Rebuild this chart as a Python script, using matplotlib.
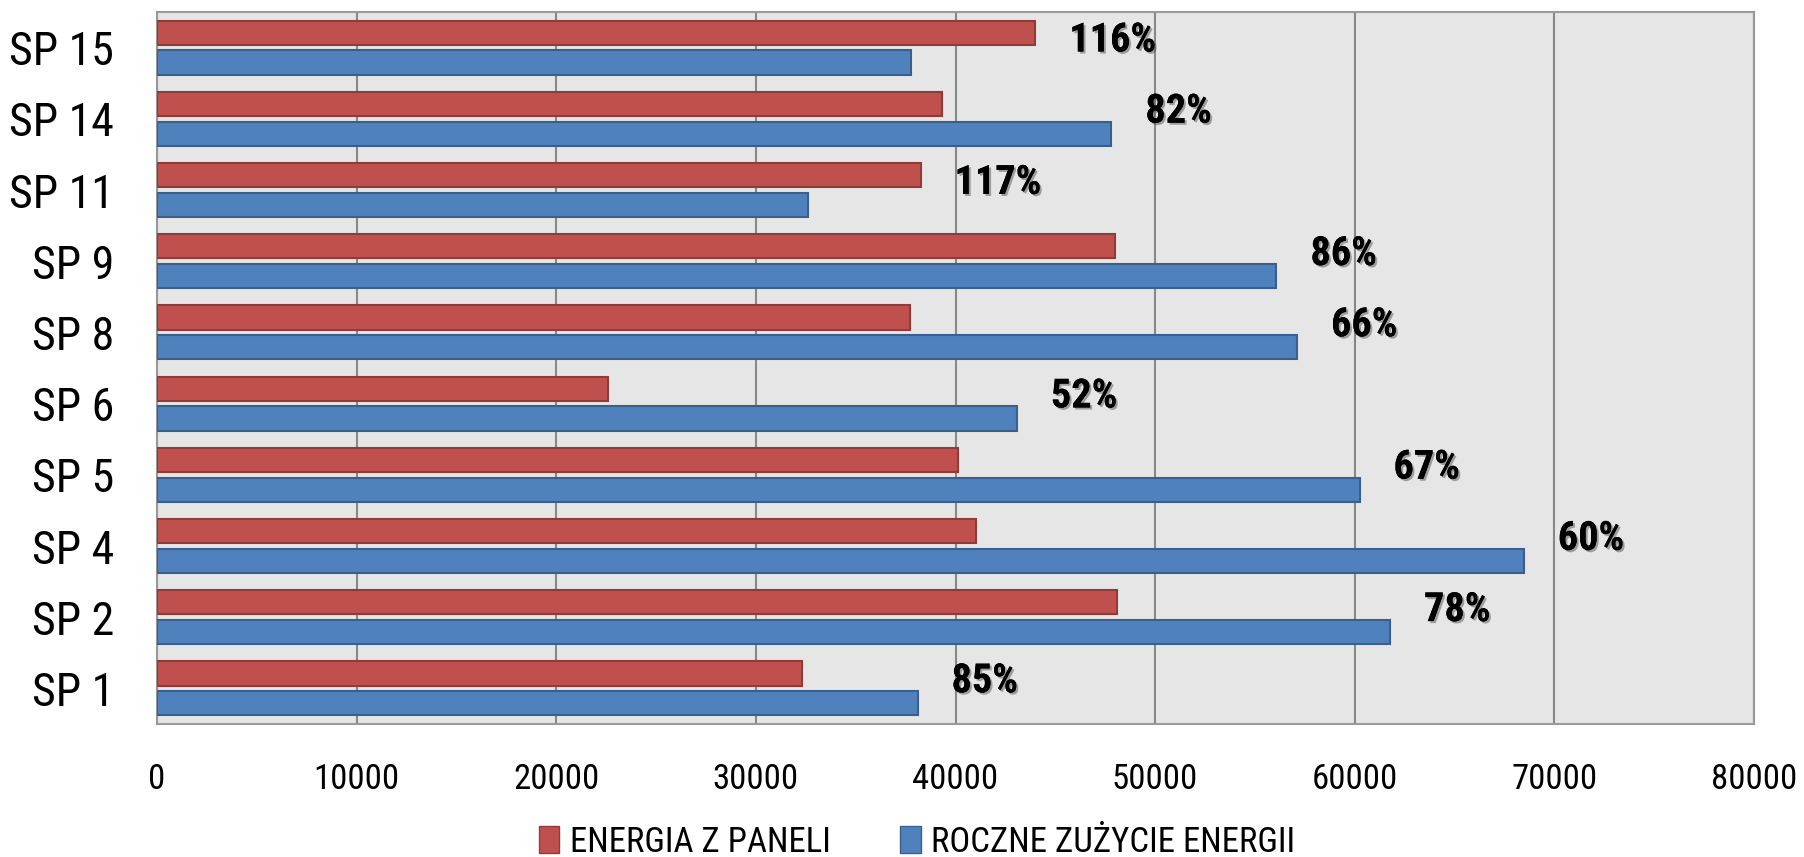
import os
import matplotlib
matplotlib.use('Agg')
import numpy as np
from matplotlib import pyplot as plt
from matplotlib import patheffects as pe
from matplotlib import font_manager as fm
from matplotlib.patches import Patch

schools = ['SP 1', 'SP 2', 'SP 4', 'SP 5', 'SP 6', 'SP 8', 'SP 9', 'SP 11', 'SP 14', 'SP 15']
panels = [32300, 48090, 41050, 40110, 22610, 37740, 47970, 38250, 39300, 44000]
usage = [38100, 61770, 68470, 60240, 43080, 57110, 56080, 32610, 47810, 37780]
percent = ['85%', '78%', '60%', '67%', '52%', '66%', '86%', '117%', '82%', '116%']
x_ticks = [0, 10000, 20000, 30000, 40000, 50000, 60000, 70000, 80000]

# look for a narrow font, the original uses a condensed face
pref = ['Liberation Sans Narrow', 'Roboto Condensed', 'DejaVu Sans', 'Noto Sans',
        'Open Sans', 'Roboto', 'Lato', 'Inter']
wmap = {'normal': 400, 'regular': 400, 'book': 400, 'medium': 500, 'bold': 700,
        'semibold': 600, 'demibold': 600, 'light': 300, 'black': 900, 'heavy': 900}


def narrow_font(bold):
    target = 700 if bold else 400
    best, best_score = None, None
    for f in fm.fontManager.ttflist:
        base = os.path.basename(f.fname)
        st = str(f.stretch)
        cond = (st in ('condensed', 'semi-condensed') or 'Narrow' in f.name
                or ('Condensed' in base and 'Extra' not in base and 'Ultra' not in base))
        if not cond or f.style != 'normal':
            continue
        w = f.weight if isinstance(f.weight, int) else wmap.get(str(f.weight).lower(), 400)
        if bold != (w >= 600):
            continue
        rank = len(pref)
        for k, p in enumerate(pref):
            if f.name.startswith(p):
                rank = k
                break
        score = (rank, 'Semi' in base, abs(w - target))
        if best_score is None or score < best_score:
            best, best_score = f, score
    if best is None:
        return fm.FontProperties(family='DejaVu Sans', weight='bold' if bold else 'normal')
    return fm.FontProperties(fname=best.fname)


font_reg = narrow_font(False)
font_bold = narrow_font(True)

red = '#C0504D'
blue = '#4F81BD'

fig = plt.figure(figsize=(18.04, 8.57), dpi=100)
ax = fig.add_axes([157/1804, 133/857, 1597/1804, 712/857])
ax.set_facecolor('#E6E6E6')

y = np.arange(len(schools))
h = 0.34
ax.barh(y + 0.21, panels, height=h, color=red, edgecolor='#8E3B39', linewidth=1.5, zorder=3)
ax.barh(y - 0.21, usage, height=h, color=blue, edgecolor='#3A5F8C', linewidth=1.5, zorder=3)

shadow = [pe.withSimplePatchShadow(offset=(1.5, -1.5), shadow_rgbFace='#555555', alpha=0.5), pe.Normal()]
for i in range(len(schools)):
    top = max(panels[i], usage[i])
    ax.text(top + 1700, y[i] + 0.1, percent[i], fontproperties=font_bold, fontsize=29,
            ha='left', va='center', zorder=4, path_effects=shadow)

ax.set_xlim(0, 80000)
ax.set_ylim(-0.5, len(schools) - 0.5)
ax.set_xticks(x_ticks)
ax.set_xticklabels([str(v) for v in x_ticks], fontproperties=font_reg, fontsize=25)
ax.set_yticks(y)
ax.set_yticklabels(schools, fontproperties=font_reg, fontsize=33)
ax.tick_params(axis='x', length=0, pad=28)
ax.tick_params(axis='y', length=0, pad=31)
ax.grid(axis='x', color='#888888', linewidth=1.5, zorder=1)
ax.set_axisbelow(True)
for s in ax.spines.values():
    s.set_color('#999999')
    s.set_linewidth(1.5)

handles = [Patch(facecolor=red, edgecolor='#8E3B39', label='ENERGIA Z PANELI'),
           Patch(facecolor=blue, edgecolor='#3A5F8C', label='ROCZNE ZUŻYCIE ENERGII')]
leg_font = font_reg.copy()
leg_font.set_size(25)
fig.legend(handles=handles, loc='center', bbox_to_anchor=(917/1804, 1 - 842/857), ncol=2,
           frameon=False, prop=leg_font, handlelength=0.6, handleheight=0.8,
           handletextpad=0.3, columnspacing=2.0)

fig.savefig('out.png', dpi=100)
